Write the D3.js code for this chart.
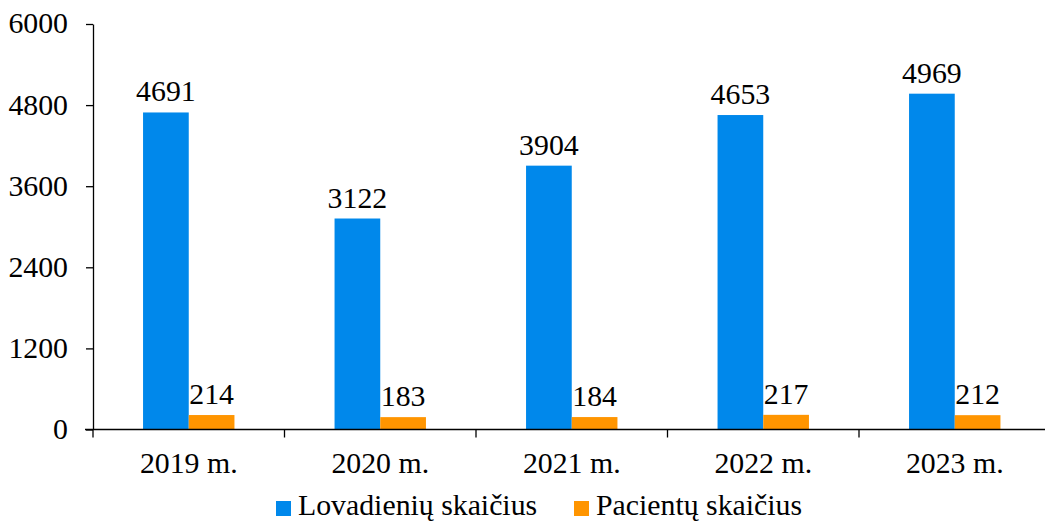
<!DOCTYPE html>
<html><head><meta charset="utf-8">
<script src="https://cdn.jsdelivr.net/npm/d3@7"></script>
<style>body{margin:0;background:#fff}</style>
</head><body><svg id="c" width="1045" height="521" font-family="Liberation Serif"></svg>
<script>
const categories = ["2019 m.","2020 m.","2021 m.","2022 m.","2023 m."];
const seriesNames = ["Lovadienių skaičius","Pacientų skaičius"];
const lovadieniai = [4691,3122,3904,4653,4969];
const pacientai = [214,183,184,217,212];
const yTicks = [0,1200,2400,3600,4800,6000];
const colors = ["#0088EB","#FF9500"];

(function(){
const svg = d3.select("#c");
const FF = "Liberation Serif", FS = 29.8;
const mLeft = 93, mRight = 1050.5, mTop = 24, mBottom = 429.5;
const x = d3.scaleBand().domain(categories).range([mLeft,mRight]).paddingInner(0).paddingOuter(0);
const y = d3.scaleLinear().domain([0,6000]).range([mBottom,mTop]);
const inner = d3.scaleBand().domain(seriesNames).range([0,x.bandwidth()]).paddingOuter(1.095).paddingInner(0);
const series = [lovadieniai,pacientai];

series.forEach((vals,si)=>{
  svg.append("g").selectAll("rect").data(vals).join("rect")
    .attr("x",(d,i)=>x(categories[i])+inner(seriesNames[si]))
    .attr("y",d=>y(d)).attr("width",inner.bandwidth()).attr("height",d=>mBottom-y(d))
    .attr("fill",colors[si]);
  svg.append("g").selectAll("text").data(vals).join("text")
    .attr("x",(d,i)=>x(categories[i])+inner(seriesNames[si])+inner.bandwidth()/2)
    .attr("y",d=>y(d)-11).attr("text-anchor","middle").attr("font-size",FS).attr("font-family",FF).attr("fill","#000").text(d=>d);
});

const ya = svg.append("g").attr("transform",`translate(${mLeft},0)`)
  .call(d3.axisLeft(y).tickValues(yTicks).tickFormat(d3.format("d")).tickSize(7).tickPadding(18).tickSizeOuter(0));
ya.attr("font-family",FF);
ya.select(".domain").attr("stroke","#000").attr("stroke-width",1.3);
ya.selectAll(".tick line").attr("stroke","#000").attr("stroke-width",1.3);
ya.selectAll(".tick text").attr("font-size",FS).attr("dy","0.3em").attr("fill","#000");

const xa = svg.append("g").attr("transform",`translate(0,${mBottom})`)
  .call(d3.axisBottom(x).tickSize(0).tickPadding(22));
xa.attr("font-family",FF);
xa.select(".domain").attr("d",`M${mLeft-8},0H${1045}`).attr("stroke","#000").attr("stroke-width",1.3);
xa.selectAll(".tick text").attr("font-size",FS).attr("fill","#000");
xa.append("g").selectAll("line").data(categories).join("line")
  .attr("x1",d=>x(d)).attr("x2",d=>x(d)).attr("y1",0).attr("y2",8)
  .attr("stroke","#000").attr("stroke-width",1.3);

const legX = [276,574];
seriesNames.forEach((n,i)=>{
  svg.append("rect").attr("x",legX[i]).attr("y",501).attr("width",15).attr("height",15).attr("fill",colors[i]);
  svg.append("text").attr("x",legX[i]+22).attr("y",515).attr("font-size",FS).attr("font-family",FF).attr("fill","#000").text(n);
});
})();
</script></body></html>
